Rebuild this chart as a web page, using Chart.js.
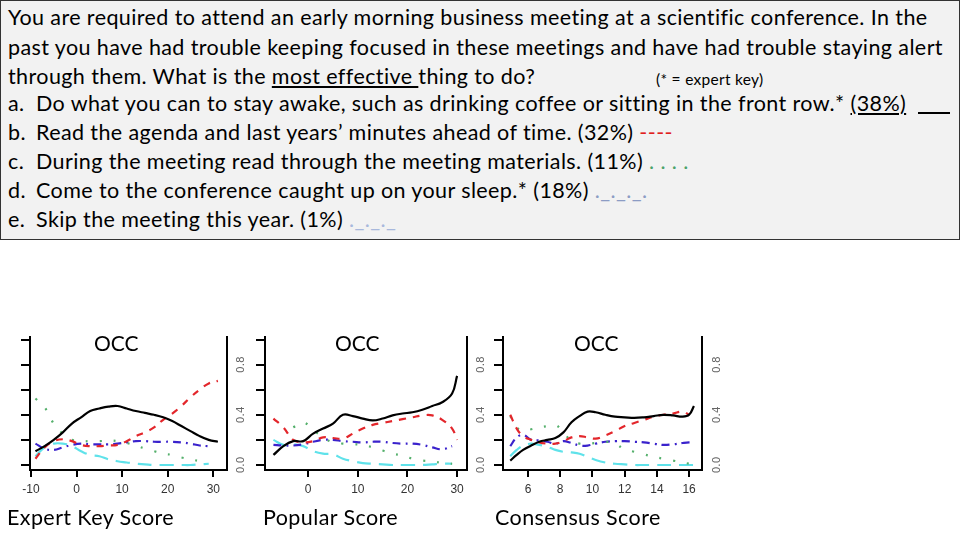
<!DOCTYPE html>
<html>
<head>
<meta charset="utf-8">
<script src="https://cdn.jsdelivr.net/npm/chart.js@4.4.1/dist/chart.umd.min.js"></script>
<style>
  body { margin: 0; width: 960px; height: 540px; overflow: hidden; background: #fff; position: relative; font-family: Lato, "Open Sans", sans-serif; }
  #question { position: absolute; left: 0; top: 0; width: 958px; height: 238px; border: 1px solid #333; background: #f2f2f2; }
  .line { position: absolute; left: 7px; font-size: 21.5px; letter-spacing: 0.4px; line-height: 29px; white-space: nowrap; color: #000; }
  .lbl { display: inline-block; width: 28px; }
  .key { position: absolute; left: 655px; top: 68px; font-size: 15.5px; letter-spacing: 0.3px; line-height: 20px; white-space: nowrap; }
  .sampleA { display: inline-block; width: 32px; height: 0; border-bottom: 2px solid #000; vertical-align: -3px; margin-left: 6px; }
  .panel { position: absolute; top: 330px; height: 175px; }
  .occ { position: absolute; top: 329px; font-size: 21px; line-height: 28px; }
  .score { position: absolute; top: 503px; font-size: 21.5px; letter-spacing: 0.4px; line-height: 28px; white-space: nowrap; }
</style>
</head>
<body>
<div id="question">
  <div class="line" style="top:2px">You are required to attend an early morning business meeting at a scientific conference. In the</div>
  <div class="line" style="top:32px">past you have had trouble keeping focused in these meetings and have had trouble staying alert</div>
  <div class="line" style="top:61px">through them. What is the <u>most effective </u>thing to do?</div>
  <div class="key">(* = expert key)</div>
  <div class="line" style="top:88px"><span class="lbl">a.</span>Do what you can to stay awake, such as drinking coffee or sitting in the front row.* <u>(38%)</u> <span class="sampleA"></span></div>
  <div class="line" style="top:117px"><span class="lbl">b.</span>Read the agenda and last years’ minutes ahead of time. (32%) <span style="color:#e0201c">----</span></div>
  <div class="line" style="top:146px"><span class="lbl">c.</span>During the meeting read through the meeting materials. (11%) <span style="color:#4aa36a">. . . .</span></div>
  <div class="line" style="top:175px"><span class="lbl">d.</span>Come to the conference caught up on your sleep.* (18%) <span style="color:#8c9cc4">._._._.</span></div>
  <div class="line" style="top:204px"><span class="lbl">e.</span>Skip the meeting this year. (1%) <span style="color:#a8b8dc">._._._</span></div>
</div>

<!-- canvas left + 40 = plot left edge (30, 265, 503) -->
<div class="panel" style="left:-10px;width:250px"><canvas id="expert"></canvas></div>
<div class="panel" style="left:225px;width:250px"><canvas id="popular"></canvas></div>
<div class="panel" style="left:463px;width:247px"><canvas id="consensus"></canvas></div>
<div class="panel" style="left:700px;width:60px"><canvas id="nextAxis"></canvas></div>

<div class="occ" style="left:94px">OCC</div>
<div class="occ" style="left:335px">OCC</div>
<div class="occ" style="left:574px">OCC</div>

<div class="score" style="left:7px">Expert Key Score</div>
<div class="score" style="left:263px">Popular Score</div>
<div class="score" style="left:495px">Consensus Score</div>

<script>
// y axis, shared by every panel
const yTicks = [0, 0.2, 0.4, 0.6, 0.8, 1.0]
const yLabels = ['0.0', '', '0.4', '', '0.8', '']

// Expert Key Score panel
const expertX = [-9, -7, -5, -3, -1, 1, 3, 5, 7, 9, 11, 13, 15, 17, 19, 21, 23, 25, 27, 29, 31]
const expertTicks = [-10, 0, 10, 20, 30]
const expertA = [0.11, 0.15, 0.2, 0.26, 0.33, 0.38, 0.43, 0.45, 0.465, 0.47, 0.45, 0.43, 0.415, 0.4, 0.38, 0.35, 0.31, 0.27, 0.23, 0.2, 0.185]
const expertB = [0.05, 0.14, 0.19, 0.205, 0.19, 0.16, 0.15, 0.15, 0.155, 0.16, 0.19, 0.23, 0.26, 0.3, 0.36, 0.41, 0.47, 0.54, 0.6, 0.65, 0.67]
const expertC = [0.53, 0.46, 0.33, 0.25, 0.2, 0.19, 0.19, 0.19, 0.195, 0.19, 0.175, 0.155, 0.13, 0.11, 0.09, 0.08, 0.06, 0.045, 0.03, 0.01, null]
const expertD = [0.17, 0.13, 0.12, 0.14, 0.16, 0.17, 0.165, 0.165, 0.165, 0.17, 0.18, 0.19, 0.19, 0.185, 0.185, 0.185, 0.18, 0.17, 0.155, 0.15, null]
const expertE = [0.07, 0.14, 0.17, 0.17, 0.15, 0.11, 0.08, 0.07, 0.045, 0.03, 0.02, 0.01, 0.005, 0, 0, 0, 0, 0, 0.005, 0.01, null]

// Popular Score panel
const popularX = [-7, -5, -3, -1, 1, 3, 5, 7, 9, 11, 13, 15, 17, 19, 21, 23, 25, 27, 29, 30]
const popularTicks = [0, 10, 20, 30]
const popularA = [0.08, 0.15, 0.19, 0.19, 0.25, 0.29, 0.33, 0.4, 0.39, 0.37, 0.355, 0.37, 0.395, 0.41, 0.42, 0.44, 0.47, 0.5, 0.57, 0.71]
const popularB = [0.37, 0.3, 0.2, 0.18, 0.19, 0.22, 0.215, 0.21, 0.25, 0.29, 0.32, 0.335, 0.35, 0.365, 0.38, 0.395, 0.395, 0.36, 0.29, 0.2]
const popularC = [null, null, 0.3, 0.34, 0.28, 0.22, 0.18, 0.17, 0.165, 0.16, 0.14, 0.115, 0.09, 0.075, 0.05, 0.035, 0.03, 0.015, 0.01, null]
const popularD = [0.16, 0.155, 0.155, 0.165, 0.185, 0.2, 0.2, 0.19, 0.185, 0.18, 0.185, 0.185, 0.175, 0.17, 0.17, 0.16, 0.14, 0.125, 0.15, null]
const popularE = [0.2, 0.16, 0.165, 0.15, 0.11, 0.09, 0.085, 0.05, 0.03, 0.015, 0.01, 0.005, 0, 0, 0, 0, 0.005, 0.01, 0.01, null]

// Consensus Score panel
const consensusX = [4.9, 5.3, 5.7, 6.2, 6.7, 7.2, 7.7, 8.2, 8.7, 9.2, 9.7, 10.2, 10.8, 11.4, 12, 12.6, 13.2, 13.8, 14.4, 15, 15.6, 16, 16.3]
const consensusTicks = [6, 8, 10, 12, 14, 16]
const consensusA = [0.035, 0.08, 0.12, 0.155, 0.185, 0.2, 0.215, 0.26, 0.34, 0.39, 0.425, 0.42, 0.4, 0.385, 0.38, 0.375, 0.38, 0.39, 0.4, 0.395, 0.385, 0.4, 0.47]
const consensusB = [0.4, 0.29, 0.23, 0.2, 0.18, 0.17, 0.17, 0.19, 0.22, 0.23, 0.22, 0.21, 0.235, 0.27, 0.31, 0.335, 0.36, 0.385, 0.4, 0.41, 0.425, 0.4, null]
const consensusC = [0.39, 0.3, 0.27, 0.285, 0.3, 0.31, 0.32, 0.26, 0.19, 0.17, 0.17, 0.175, 0.185, 0.17, 0.125, 0.105, 0.085, 0.065, 0.05, 0.035, 0.02, 0.01, null]
const consensusD = [0.15, 0.22, 0.24, 0.2, 0.195, 0.185, 0.17, 0.19, 0.175, 0.155, 0.155, 0.17, 0.185, 0.19, 0.19, 0.185, 0.18, 0.17, 0.16, 0.165, 0.175, 0.18, 0.18]
const consensusE = [0.07, 0.12, 0.155, 0.17, 0.16, 0.145, 0.12, 0.105, 0.1, 0.09, 0.065, 0.04, 0.02, 0.01, 0.005, 0, 0, 0, 0, 0, 0, 0, 0]

// answer a..e line looks
const lineColors = ['#000000', '#e3262b', '#55b06c', '#3a22cc', '#5fe2ea']
const lineDashes = [[], [7, 7], [2, 12], [8, 5, 2, 5], [14, 8]]

const axisFont = { family: 'DejaVu Sans', size: 10.5 }

// rotated labels sit centred on the tick; labelPad moves them sideways
function yAxis(width, showLabels, labelPad, tickMarks) {
    return {
        type: 'linear', min: -0.04, max: 1.02,
        afterBuildTicks: s => { s.ticks = yTicks.map(v => ({ value: v })) },
        afterFit: s => { s.width = width; s.paddingTop = 0; s.paddingBottom = 0 },
        grid: { display: tickMarks, drawOnChartArea: false, drawTicks: tickMarks, tickLength: 9, tickColor: '#000', lineWidth: 2 },
        border: { display: tickMarks, color: '#000', width: 2 },
        ticks: {
            display: showLabels, autoSkip: false, minRotation: 90, maxRotation: 90, crossAlign: 'center',
            padding: labelPad, color: '#666', font: axisFont, callback: (v, i) => yLabels[i]
        }
    }
}

function makePanel(id, xs, xTicks, xMin, xMax, series, showYLabels, labelPad, padRight) {
    const datasets = series.map((ys, i) => ({
        data: xs.map((x, j) => ({ x: x, y: ys[j] })),
        borderColor: lineColors[i],
        borderDash: lineDashes[i],
        borderWidth: 2.2,
        pointRadius: 0,
        tension: 0.4,
        fill: false
    }))
    return new Chart(document.getElementById(id), {
        type: 'line',
        data: { datasets: datasets },
        options: {
            responsive: true, maintainAspectRatio: false, animation: false,
            layout: { padding: { left: 0, right: padRight, top: 7, bottom: 0 } },
            plugins: { legend: { display: false }, tooltip: { enabled: false } },
            scales: {
                x: {
                    type: 'linear', min: xMin, max: xMax,
                    afterBuildTicks: s => { s.ticks = xTicks.map(v => ({ value: v })) },
                    afterFit: s => { s.height = 35; s.paddingLeft = 0; s.paddingRight = 0 },
                    grid: { drawOnChartArea: false, drawTicks: true, tickLength: 7, tickColor: '#000', lineWidth: 2 },
                    border: { display: true, color: '#000', width: 2 },
                    ticks: { autoSkip: false, maxRotation: 0, padding: 5, color: '#333', font: { family: 'Liberation Sans', size: 12 }, callback: v => String(v) }
                },
                y: yAxis(40, showYLabels, labelPad, true),
                y2: {
                    type: 'linear', position: 'right', min: -0.04, max: 1.02,
                    afterFit: s => { s.width = 0 },
                    grid: { display: false, drawTicks: false },
                    ticks: { display: false },
                    border: { display: true, color: '#000', width: 2 }
                }
            }
        }
    })
}

makePanel('expert', expertX, expertTicks, -10.2, 33,
    [expertA, expertB, expertC, expertD, expertE], false, 3, 13)
makePanel('popular', popularX, popularTicks, -8.7, 32,
    [popularA, popularB, popularC, popularD, popularE], true, 6, 8)
makePanel('consensus', consensusX, consensusTicks, 4.45, 16.8,
    [consensusA, consensusB, consensusC, consensusD, consensusE], true, 4, 8)

// labels of the next, cropped panel
new Chart(document.getElementById('nextAxis'), {
    type: 'line',
    data: { datasets: [] },
    options: {
        responsive: true, maintainAspectRatio: false, animation: false,
        layout: { padding: { left: 0, right: 0, top: 7, bottom: 35 } },
        plugins: { legend: { display: false }, tooltip: { enabled: false } },
        scales: { x: { type: 'linear', display: false, min: 0, max: 1 }, y: yAxis(40, true, 14.5, false) }
    }
})
</script>
</body>
</html>
